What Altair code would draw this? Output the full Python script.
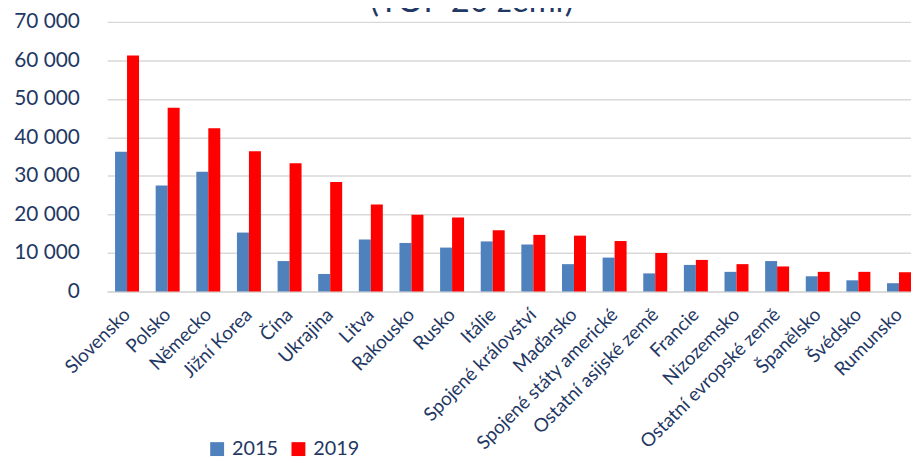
import altair as alt
import pandas as pd

countries = ["Slovensko", "Polsko", "Německo", "Jižní Korea", "Čína", "Ukrajina",
             "Litva", "Rakousko", "Rusko", "Itálie", "Spojené království", "Maďarsko",
             "Spojené státy americké", "Ostatní asijské země", "Francie", "Nizozemsko",
             "Ostatní evropské země", "Španělsko", "Švédsko", "Rumunsko"]
v2015 = [36300, 27500, 31100, 15300, 7900, 4550, 13500, 12600, 11400, 13000,
         12200, 7100, 8800, 4700, 6900, 5100, 7900, 3950, 2900, 2150]
v2019 = [61300, 47700, 42400, 36400, 33300, 28400, 22600, 19900, 19200, 15900,
         14700, 14500, 13100, 10000, 8200, 7100, 6500, 5100, 5100, 5000]
years = ["2015", "2019"]
colors = ["#4F81BD", "#FF0000"]
y_ticks = [0, 10000, 20000, 30000, 40000, 50000, 60000, 70000]
title_text = "(TOP 20 zemí)"

navy = "#1F3864"
font = "Lato"

rows = []
for c, a, b in zip(countries, v2015, v2019):
    rows.append({"country": c, "year": years[0], "value": a})
    rows.append({"country": c, "year": years[1], "value": b})
df = pd.DataFrame(rows)

bars = alt.Chart(df).mark_bar().encode(
    x=alt.X("country:N", sort=countries,
            scale=alt.Scale(paddingInner=0.41, paddingOuter=0.0976, align=1),
            axis=alt.Axis(title=None, labelAngle=-45, labelAlign="right",
                          labelBaseline="middle", labelFontSize=19, labelFont=font,
                          labelColor=navy, labelPadding=20, ticks=False,
                          domainColor="#D9D9D9", domainWidth=1.5, grid=False,
                          labelOverlap=False, labelLimit=400)),
    xOffset=alt.XOffset("year:N", sort=years,
                        scale=alt.Scale(paddingInner=0, paddingOuter=0)),
    y=alt.Y("value:Q", scale=alt.Scale(domain=[0, 70000], nice=False),
            axis=alt.Axis(title=None, values=y_ticks,
                          labelExpr="replace(format(datum.value, ','), ',', ' ')",
                          labelFontSize=21, labelFont=font, labelColor=navy,
                          labelPadding=28, ticks=False, domain=False,
                          gridColor="#D9D9D9", gridWidth=1.5)),
    color=alt.Color("year:N", sort=years,
                    scale=alt.Scale(domain=years, range=colors),
                    legend=alt.Legend(title=None, orient="none", legendX=101, legendY=421,
                                      direction="horizontal", symbolType="square",
                                      symbolSize=196, symbolStrokeWidth=0,
                                      labelFontSize=20, labelFont=font, labelColor=navy,
                                      labelOffset=5, columnPadding=10, padding=0)),
)

title_layer = alt.Chart(pd.DataFrame({"t": [title_text]})).mark_text(
    font=font, fontSize=33, color=navy, align="center", baseline="alphabetic"
).encode(text="t:N", x=alt.value(368), y=alt.value(-10))

chart = alt.layer(bars, title_layer).properties(
    width=811, height=272,
    autosize=alt.AutoSizeParams(type="none"),
    padding={"left": 100, "top": 12, "right": 0, "bottom": 168},
    background="white",
).configure_view(stroke=None)

chart.save("out.html", embed_options={"renderer": "svg", "actions": False})
